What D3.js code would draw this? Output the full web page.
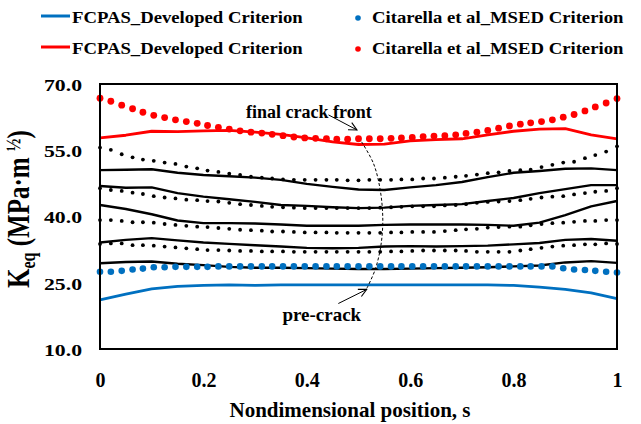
<!DOCTYPE html>
<html>
<head>
<meta charset="utf-8">
<script src="https://cdn.jsdelivr.net/npm/d3@7"></script>
<style>
  html, body { margin: 0; padding: 0; background: #fff; }
  svg text { font-family: "Liberation Serif", Tinos, "Times New Roman", "DejaVu Serif", serif; font-weight: bold; }
</style>
</head>
<body>
<svg id="chart" width="641" height="424"></svg>
<script>
// Positions along the crack front for the MSED point series
const sDots = [0, 0.021, 0.042, 0.063, 0.083, 0.104, 0.125, 0.146, 0.167, 0.188,
  0.208, 0.229, 0.25, 0.271, 0.292, 0.313, 0.333, 0.354, 0.375, 0.396,
  0.417, 0.438, 0.458, 0.479, 0.5, 0.521, 0.542, 0.563, 0.583, 0.604,
  0.625, 0.646, 0.667, 0.688, 0.708, 0.729, 0.75, 0.771, 0.792, 0.813,
  0.833, 0.854, 0.875, 0.896, 0.917, 0.938, 0.958, 0.979, 1];

// Citarella et al. MSED criterion (pre-crack, blue)
const msedPre = [27.5, 27.5, 27.7, 28.0, 28.2, 28.5, 28.5, 28.6, 28.6, 28.6,
  28.6, 28.7, 28.7, 28.7, 28.7, 28.7, 28.7, 28.7, 28.7, 28.7,
  28.7, 28.7, 28.7, 28.7, 28.7, 28.7, 28.7, 28.7, 28.7, 28.7,
  28.7, 28.7, 28.7, 28.7, 28.7, 28.7, 28.7, 28.7, 28.7, 28.7,
  28.7, 28.7, 28.7, 28.3, 28.0, 27.9, 27.7, 27.5, 27.3];
// Intermediate crack fronts (black points)
const msedStep1 = [33.8, 33.9, 33.9, 33.5, 33.5, 33.4, 33.2, 33.0, 32.8, 32.6,
  32.4, 32.4, 32.3, 32.2, 32.2, 32.1, 32.1, 32.1, 32.0, 32.0,
  32.0, 32.0, 32.0, 32.0, 32.0, 32.0, 32.0, 32.1, 32.1, 32.2,
  32.3, 32.3, 32.3, 32.3, 32.2, 32.0, 32.0, 32.0, 32.0, 32.3,
  32.6, 32.9, 33.2, 33.4, 33.5, 33.7, 33.7, 33.9, 33.8];
const msedStep2 = [39.2, 39.2, 39.0, 38.7, 38.7, 38.6, 38.3, 38.1, 37.9, 37.7,
  37.6, 37.4, 37.2, 37.0, 36.9, 36.8, 36.6, 36.6, 36.5, 36.4,
  36.4, 36.4, 36.3, 36.3, 36.3, 36.3, 36.3, 36.4, 36.4, 36.5,
  36.5, 36.5, 36.7, 36.9, 37.1, 37.2, 37.5, 37.6, 37.7, 37.7,
  38.0, 38.3, 38.5, 38.6, 38.8, 39.0, 39.0, 39.2, 39.2];
const msedStep3 = [46.4, 46.0, 45.8, 45.4, 45.1, 44.6, 44.3, 44.1, 43.8, 43.7,
  43.5, 43.4, 43.1, 42.8, 42.6, 42.4, 42.2, 42.1, 42.0, 41.9,
  41.9, 41.9, 41.9, 41.9, 41.9, 41.9, 42.0, 42.1, 42.2, 42.3,
  42.3, 42.3, 42.5, 42.6, 42.8, 43.1, 43.3, 43.4, 43.5, 43.7,
  44.0, 44.3, 44.5, 44.6, 45.0, 45.3, 45.6, 45.8, 46.4];
const msedStep4 = [55.6, 55.1, 54.1, 53.4, 52.9, 52.6, 52.2, 51.9, 51.3, 50.9,
  50.4, 50.1, 49.7, 49.4, 49.0, 48.8, 48.6, 48.4, 48.3, 48.3,
  48.3, 48.3, 48.3, 48.2, 48.2, 48.3, 48.3, 48.3, 48.4, 48.4,
  48.6, 48.6, 48.8, 49.0, 49.2, 49.5, 49.8, 50.0, 50.3, 50.5,
  50.6, 51.2, 51.7, 52.2, 52.4, 53.2, 53.9, 54.7, 55.9];
// Final crack front (red)
const msedFinal = [66.8, 66.1, 65.2, 64.4, 63.6, 62.9, 62.4, 61.9, 61.5, 61.1,
  60.6, 60.2, 59.8, 59.4, 59.1, 58.9, 58.6, 58.3, 58.0, 57.8,
  57.7, 57.6, 57.5, 57.5, 57.6, 57.6, 57.6, 57.7, 57.8, 57.9,
  58.1, 58.2, 58.3, 58.5, 58.8, 59.1, 59.5, 60.0, 60.5, 60.9,
  61.2, 61.5, 61.9, 62.5, 63.1, 63.9, 64.8, 65.7, 66.7];

// Positions along the crack front for the FCPAS curves
const sLine = [0, 0.05, 0.1, 0.15, 0.2, 0.25, 0.3, 0.35, 0.4, 0.45,
  0.5, 0.55, 0.6, 0.65, 0.7, 0.75, 0.8, 0.85, 0.9, 0.95, 1];

const fcpasPre = [21.1, 22.4, 23.6, 24.2, 24.4, 24.5, 24.4, 24.5, 24.5, 24.5,
  24.5, 24.5, 24.5, 24.5, 24.5, 24.5, 24.4, 24.0, 23.5, 22.7, 21.4];
const fcpasStep1 = [29.4, 29.7, 29.8, 29.3, 29.0, 28.6, 28.4, 28.4, 28.3, 28.2,
  28.1, 28.1, 28.2, 28.3, 28.4, 28.5, 28.7, 28.9, 29.6, 29.9, 29.5];
const fcpasStep2 = [34.1, 34.7, 35.1, 34.6, 34.1, 33.8, 33.5, 33.2, 32.9, 32.8,
  32.9, 33.2, 33.3, 33.2, 33.3, 33.4, 33.7, 34.0, 34.7, 34.9, 34.5];
const fcpasStep3 = [42.6, 41.7, 40.5, 39.1, 38.5, 38.5, 38.4, 38.2, 37.9, 37.9,
  37.9, 38.1, 38.2, 38.2, 38.2, 38.1, 37.9, 38.6, 40.3, 42.3, 43.5];
const fcpasStep4 = [46.9, 46.5, 46.6, 45.3, 44.5, 43.9, 43.3, 42.6, 42.4, 42.1,
  41.9, 42.0, 42.4, 42.6, 42.8, 43.5, 44.2, 45.3, 46.2, 47.1, 47.1];
const fcpasStep5 = [50.5, 50.6, 50.7, 49.9, 49.4, 49.1, 48.8, 48.3, 47.4, 46.7,
  46.1, 46.0, 46.6, 47.1, 47.8, 48.9, 49.9, 50.3, 50.8, 50.9, 50.5];
const fcpasFinal = [57.8, 58.4, 59.3, 59.2, 59.4, 59.5, 59.1, 58.6, 57.8, 56.9,
  56.3, 56.4, 57.1, 57.4, 57.6, 58.5, 59.3, 59.8, 59.9, 58.5, 57.6];

// Axis ticks
const xTicks = [0, 0.2, 0.4, 0.6, 0.8, 1];
const xTickLabels = ["0", "0.2", "0.4", "0.6", "0.8", "1"];
const yTicks = [10, 25, 40, 55, 70];
const yTickLabels = ["10.0", "25.0", "40.0", "55.0", "70.0"];

// Annotation path from the final crack front down to the pre-crack (s, K)
const frontArcS = [0.506, 0.529, 0.542, 0.547, 0.543, 0.532, 0.516];
const frontArcK = [56.9, 52.0, 46.0, 39.2, 33.2, 27.9, 23.7];

const BLUE = "#0070C0", RED = "#FF0000", BLACK = "#000";
const SERIF = "'Liberation Serif', Tinos, 'Times New Roman', 'DejaVu Serif', serif";

const svg = d3.select("#chart");
svg.append("rect").attr("width", 641).attr("height", 424).attr("fill", "#fff");

const x = d3.scaleLinear().domain([0, 1]).range([100, 617]);
const y = d3.scaleLinear().domain([10, 70]).range([349, 84]);

const defs = svg.append("defs");
defs.append("marker")
  .attr("id", "open-arrow")
  .attr("viewBox", "0 0 10 10")
  .attr("refX", 9).attr("refY", 5)
  .attr("markerWidth", 10).attr("markerHeight", 10)
  .attr("markerUnits", "userSpaceOnUse")
  .attr("orient", "auto")
  .append("path")
  .attr("d", "M1,1 L9,5 L1,9")
  .attr("fill", "none").attr("stroke", BLACK).attr("stroke-width", 1.1);

// Axes (labels only; the frame is drawn as a box)
const xAxis = d3.axisBottom(x).tickValues(xTicks).tickSize(0).tickPadding(24)
  .tickFormat((d, i) => xTickLabels[i]);
const gx = svg.append("g").attr("transform", "translate(0,349)").call(xAxis)
  .attr("font-family", SERIF).attr("font-size", 20);
gx.select(".domain").remove();
gx.selectAll("text").attr("fill", BLACK);

const yAxis = d3.axisLeft(y).tickValues(yTicks).tickSize(0)
  .tickFormat((d, i) => yTickLabels[i]);
const gy = svg.append("g").attr("transform", "translate(100,0)").call(yAxis)
  .attr("font-family", SERIF).attr("font-size", 17);
gy.select(".domain").remove();
gy.selectAll("text")
  .attr("fill", BLACK)
  .attr("x", -18 / 1.28).attr("dy", "0.38em")
  .attr("transform", "scale(1.28,1)");

// Series
const line = d3.line().x(d => x(d[0])).y(d => y(d[1]));
const lineSeries = [
  { v: fcpasPre, c: BLUE, w: 2.8 },
  { v: fcpasStep1, c: BLACK, w: 2.4 },
  { v: fcpasStep2, c: BLACK, w: 2.4 },
  { v: fcpasStep3, c: BLACK, w: 2.4 },
  { v: fcpasStep4, c: BLACK, w: 2.4 },
  { v: fcpasStep5, c: BLACK, w: 2.4 },
  { v: fcpasFinal, c: RED, w: 2.8 }
];
svg.append("g").selectAll("path").data(lineSeries).join("path")
  .attr("d", d => line(sLine.map((s, i) => [s, d.v[i]])))
  .attr("fill", "none").attr("stroke", d => d.c).attr("stroke-width", d => d.w)
  .attr("stroke-linejoin", "round");

const dotSeries = [
  { v: msedStep1, c: BLACK, r: 1.9 },
  { v: msedStep2, c: BLACK, r: 1.9 },
  { v: msedStep3, c: BLACK, r: 1.9 },
  { v: msedStep4, c: BLACK, r: 1.9 },
  { v: msedPre, c: BLUE, r: 3.3 },
  { v: msedFinal, c: RED, r: 3.4 }
];
svg.append("g").selectAll("g").data(dotSeries).join("g")
  .attr("fill", d => d.c)
  .selectAll("circle").data(d => sDots.map((s, i) => ({ s, k: d.v[i], r: d.r })))
  .join("circle")
  .attr("cx", d => x(d.s)).attr("cy", d => y(d.k)).attr("r", d => d.r);

// Plot frame
svg.append("rect")
  .attr("x", x(0)).attr("y", y(70))
  .attr("width", x(1) - x(0)).attr("height", y(10) - y(70))
  .attr("fill", "none").attr("stroke", BLACK).attr("stroke-width", 2);

// Crack-growth annotation
svg.append("path")
  .attr("d", d3.line().curve(d3.curveCatmullRom)
    .x(d => x(d[0])).y(d => y(d[1]))(frontArcS.map((s, i) => [s, frontArcK[i]])))
  .attr("fill", "none").attr("stroke", BLACK).attr("stroke-width", 1)
  .attr("stroke-dasharray", "3,2");

svg.append("line")
  .attr("x1", x(0.442)).attr("y1", y(63.0)).attr("x2", x(0.497)).attr("y2", y(59.6))
  .attr("stroke", BLACK).attr("stroke-width", 1).attr("marker-end", "url(#open-arrow)");
svg.append("line")
  .attr("x1", x(0.461)).attr("y1", y(20.3)).attr("x2", x(0.516)).attr("y2", y(23.5))
  .attr("stroke", BLACK).attr("stroke-width", 1).attr("marker-end", "url(#open-arrow)");

svg.append("text").attr("x", x(0.404)).attr("y", y(62.2))
  .attr("font-family", SERIF).attr("font-weight", "bold")
  .attr("text-anchor", "middle").attr("font-size", 18).text("final crack front");
svg.append("text").attr("x", x(0.429)).attr("y", y(16.4))
  .attr("font-family", SERIF).attr("font-weight", "bold")
  .attr("text-anchor", "middle").attr("font-size", 19).text("pre-crack");

// Axis titles
svg.append("text").attr("x", 350).attr("y", 416.5)
  .attr("font-family", SERIF).attr("font-weight", "bold")
  .attr("text-anchor", "middle").attr("font-size", 21).text("Nondimensional position, s");

const yTitle = svg.append("text")
  .attr("transform", "translate(29,209) rotate(-90) scale(1,1.25)")
  .attr("font-family", SERIF).attr("font-weight", "bold")
  .attr("text-anchor", "middle").attr("font-size", 25);
yTitle.append("tspan").text("K");
yTitle.append("tspan").attr("font-size", 16).attr("dy", 5).text("eq");
yTitle.append("tspan").attr("dy", -5).text(" (MPa\u00B7m ");
yTitle.append("tspan").attr("font-size", 17).attr("dy", -7).text("\u00BD");
yTitle.append("tspan").attr("dy", 7).text(")");

// Legend
const legendRows = [
  { c: BLUE, y: 16, base: 23 },
  { c: RED, y: 47, base: 54 }
];
const legend = svg.append("g").attr("font-family", SERIF).attr("font-weight", "bold");
legendRows.forEach(r => {
  legend.append("line").attr("x1", 41).attr("x2", 70).attr("y1", r.y).attr("y2", r.y)
    .attr("stroke", r.c).attr("stroke-width", 3);
  legend.append("text")
    .attr("transform", `translate(72,${r.base}) scale(1.1,1)`)
    .attr("font-size", 17).text("FCPAS_Developed Criterion");
  legend.append("circle").attr("cx", 358).attr("cy", r.y + 2).attr("r", 2.8).attr("fill", r.c);
  legend.append("text")
    .attr("transform", `translate(372,${r.base}) scale(1.1,1)`)
    .attr("font-size", 17).text("Citarella et al_MSED Criterion");
});
</script>
</body>
</html>
